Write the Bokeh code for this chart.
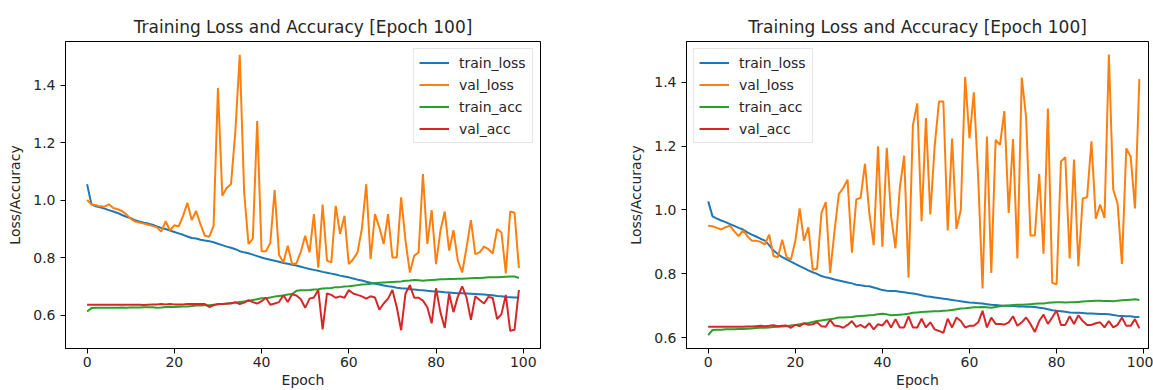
from bokeh.plotting import figure
from bokeh.models import Range1d, FixedTicker, PrintfTickFormatter
from bokeh.layouts import row
from bokeh.embed import file_html
from bokeh.resources import INLINE

TITLE = "Training Loss and Accuracy [Epoch 100]"
X_LABEL = "Epoch"
Y_LABEL = "Loss/Accuracy"
SERIES = ["train_loss", "val_loss", "train_acc", "val_acc"]
X_TICKS = [0, 20, 40, 60, 80, 100]
Y_TICKS = [0.6, 0.8, 1.0, 1.2, 1.4]
epochs = list(range(100))

# ---- left chart ----
train_loss_1 = [1.055, 0.985, 0.978, 0.975, 0.970, 0.965, 0.960, 0.955, 0.948, 0.942,
                0.937, 0.930, 0.925, 0.921, 0.918, 0.914, 0.908, 0.903, 0.899, 0.894,
                0.889, 0.884, 0.879, 0.873, 0.868, 0.866, 0.862, 0.859, 0.857, 0.853,
                0.848, 0.843, 0.838, 0.834, 0.829, 0.822, 0.818, 0.815, 0.810, 0.805,
                0.800, 0.796, 0.792, 0.789, 0.785, 0.781, 0.778, 0.775, 0.772, 0.768,
                0.764, 0.760, 0.757, 0.754, 0.750, 0.747, 0.744, 0.741, 0.737, 0.734,
                0.731, 0.727, 0.723, 0.720, 0.716, 0.712, 0.709, 0.706, 0.703, 0.700,
                0.698, 0.695, 0.693, 0.692, 0.690, 0.689, 0.687, 0.686, 0.684, 0.683,
                0.682, 0.681, 0.679, 0.678, 0.677, 0.676, 0.676, 0.675, 0.674, 0.673,
                0.672, 0.671, 0.670, 0.669, 0.666, 0.665, 0.663, 0.662, 0.661, 0.661]
val_loss_1 = [1.000, 0.985, 0.982, 0.978, 0.977, 0.985, 0.972, 0.968, 0.962, 0.950,
              0.935, 0.925, 0.922, 0.918, 0.914, 0.910, 0.905, 0.890, 0.926, 0.895,
              0.912, 0.908, 0.945, 0.990, 0.930, 0.962, 0.915, 0.876, 0.872, 0.910,
              1.390, 1.015, 1.042, 1.056, 1.240, 1.505, 1.030, 0.847, 0.866, 1.275,
              0.822, 0.822, 0.850, 1.035, 0.810, 0.783, 0.841, 0.777, 0.780, 0.820,
              0.876, 0.818, 0.951, 0.765, 0.984, 0.789, 0.783, 0.980, 0.882, 0.945,
              0.777, 0.794, 0.818, 0.900, 1.055, 0.794, 0.951, 0.905, 0.847, 0.951,
              0.800, 0.800, 1.009, 0.858, 0.748, 0.806, 0.818, 1.090, 0.847, 0.965,
              0.777, 0.893, 0.960, 0.824, 0.895, 0.789, 0.748, 0.835, 0.930, 0.812,
              0.818, 0.838, 0.829, 0.814, 0.899, 0.887, 0.745, 0.960, 0.956, 0.763]
train_acc_1 = [0.612, 0.624, 0.625, 0.625, 0.625, 0.625, 0.625, 0.625, 0.626, 0.625,
               0.626, 0.626, 0.626, 0.627, 0.627, 0.627, 0.625, 0.626, 0.628, 0.628,
               0.628, 0.629, 0.630, 0.630, 0.631, 0.633, 0.633, 0.634, 0.634, 0.636,
               0.637, 0.638, 0.639, 0.642, 0.643, 0.645, 0.647, 0.649, 0.652, 0.655,
               0.658, 0.658, 0.661, 0.664, 0.666, 0.668, 0.671, 0.673, 0.684, 0.686,
               0.686, 0.687, 0.689, 0.690, 0.692, 0.693, 0.694, 0.697, 0.697, 0.699,
               0.700, 0.702, 0.704, 0.706, 0.707, 0.709, 0.711, 0.712, 0.713, 0.714,
               0.715, 0.716, 0.717, 0.719, 0.720, 0.722, 0.721, 0.719, 0.721, 0.722,
               0.723, 0.724, 0.724, 0.725, 0.725, 0.726, 0.726, 0.727, 0.728, 0.729,
               0.729, 0.730, 0.731, 0.731, 0.731, 0.732, 0.733, 0.734, 0.734, 0.729]
val_acc_1 = [0.636, 0.636, 0.636, 0.636, 0.636, 0.636, 0.636, 0.636, 0.636, 0.636,
             0.636, 0.636, 0.636, 0.635, 0.636, 0.637, 0.637, 0.638, 0.637, 0.638,
             0.637, 0.637, 0.637, 0.638, 0.638, 0.638, 0.638, 0.638, 0.628, 0.634,
             0.638, 0.638, 0.640, 0.640, 0.645, 0.638, 0.643, 0.652, 0.645, 0.640,
             0.648, 0.660, 0.636, 0.640, 0.645, 0.669, 0.645, 0.672, 0.668, 0.655,
             0.625, 0.657, 0.661, 0.687, 0.550, 0.675, 0.670, 0.660, 0.665, 0.660,
             0.687, 0.675, 0.670, 0.665, 0.657, 0.665, 0.661, 0.619, 0.640, 0.657,
             0.687, 0.627, 0.547, 0.675, 0.704, 0.660, 0.660, 0.650, 0.627, 0.571,
             0.693, 0.610, 0.555, 0.675, 0.610, 0.664, 0.700, 0.660, 0.583, 0.665,
             0.652, 0.640, 0.663, 0.659, 0.586, 0.603, 0.670, 0.545, 0.549, 0.687]

# ---- right chart ----
train_loss_2 = [1.027, 0.980, 0.973, 0.967, 0.962, 0.956, 0.950, 0.944, 0.939, 0.930,
                0.923, 0.917, 0.910, 0.904, 0.890, 0.873, 0.862, 0.852, 0.845, 0.838,
                0.831, 0.824, 0.818, 0.811, 0.805, 0.800, 0.793, 0.789, 0.786, 0.782,
                0.779, 0.776, 0.773, 0.770, 0.766, 0.764, 0.762, 0.761, 0.757, 0.753,
                0.749, 0.747, 0.746, 0.746, 0.744, 0.742, 0.740, 0.738, 0.736, 0.733,
                0.730, 0.728, 0.726, 0.724, 0.722, 0.720, 0.718, 0.716, 0.714, 0.712,
                0.710, 0.709, 0.708, 0.707, 0.705, 0.703, 0.702, 0.701, 0.700, 0.700,
                0.699, 0.698, 0.698, 0.697, 0.697, 0.696, 0.694, 0.692, 0.689, 0.686,
                0.684, 0.683, 0.681, 0.679, 0.678, 0.678, 0.677, 0.676, 0.676, 0.675,
                0.674, 0.674, 0.673, 0.671, 0.669, 0.668, 0.667, 0.667, 0.665, 0.665]
val_loss_2 = [0.951, 0.949, 0.944, 0.939, 0.946, 0.951, 0.933, 0.918, 0.936, 0.918,
              0.904, 0.904, 0.900, 0.892, 0.923, 0.856, 0.852, 0.907, 0.852, 0.845,
              0.902, 1.005, 0.904, 0.946, 0.813, 0.816, 0.991, 1.025, 0.803, 0.933,
              1.050, 1.069, 1.095, 0.866, 1.033, 1.039, 1.145, 0.990, 0.890, 1.200,
              0.885, 1.195, 0.980, 0.880, 1.070, 1.170, 0.788, 1.265, 1.334, 0.965,
              1.288, 0.986, 1.200, 1.340, 1.340, 0.936, 1.224, 0.941, 1.000, 1.417,
              1.224, 1.369, 1.100, 0.754, 1.230, 0.803, 1.220, 1.204, 1.310, 0.991,
              1.222, 0.848, 1.415, 1.290, 0.920, 0.920, 1.113, 0.863, 1.318, 0.772,
              0.767, 1.152, 1.165, 0.848, 1.158, 0.824, 1.036, 1.040, 1.215, 0.973,
              1.017, 0.975, 1.487, 1.064, 1.020, 0.831, 1.193, 1.167, 1.005, 1.410]
train_acc_2 = [0.608, 0.624, 0.625, 0.625, 0.626, 0.626, 0.626, 0.627, 0.627, 0.628,
               0.629, 0.630, 0.631, 0.631, 0.632, 0.633, 0.634, 0.635, 0.636, 0.638,
               0.640, 0.642, 0.644, 0.646, 0.649, 0.652, 0.654, 0.656, 0.658, 0.660,
               0.663, 0.663, 0.664, 0.665, 0.667, 0.668, 0.669, 0.670, 0.671, 0.673,
               0.675, 0.673, 0.670, 0.671, 0.672, 0.673, 0.675, 0.678, 0.679, 0.680,
               0.681, 0.682, 0.683, 0.683, 0.684, 0.685, 0.687, 0.689, 0.691, 0.692,
               0.694, 0.695, 0.695, 0.696, 0.695, 0.694, 0.696, 0.698, 0.700, 0.701,
               0.702, 0.703, 0.703, 0.704, 0.705, 0.706, 0.707, 0.707, 0.709, 0.710,
               0.711, 0.711, 0.710, 0.711, 0.711, 0.712, 0.713, 0.714, 0.715, 0.716,
               0.716, 0.715, 0.715, 0.714, 0.716, 0.717, 0.718, 0.719, 0.720, 0.718]
val_acc_2 = [0.634, 0.634, 0.634, 0.634, 0.634, 0.634, 0.634, 0.634, 0.634, 0.635,
             0.635, 0.636, 0.637, 0.636, 0.637, 0.639, 0.636, 0.637, 0.638, 0.631,
             0.640, 0.636, 0.645, 0.640, 0.642, 0.648, 0.636, 0.634, 0.656, 0.638,
             0.636, 0.631, 0.640, 0.652, 0.634, 0.640, 0.631, 0.645, 0.626, 0.642,
             0.638, 0.655, 0.632, 0.658, 0.632, 0.632, 0.667, 0.632, 0.632, 0.659,
             0.632, 0.648, 0.626, 0.621, 0.615, 0.659, 0.632, 0.663, 0.652, 0.632,
             0.637, 0.637, 0.648, 0.684, 0.632, 0.663, 0.643, 0.643, 0.641, 0.648,
             0.667, 0.637, 0.648, 0.663, 0.643, 0.618, 0.652, 0.672, 0.643, 0.663,
             0.685, 0.640, 0.640, 0.667, 0.643, 0.670, 0.652, 0.640, 0.640, 0.645,
             0.648, 0.632, 0.652, 0.632, 0.640, 0.663, 0.637, 0.637, 0.658, 0.629]

COLORS = ["#1f77b4", "#ff7f0e", "#2ca02c", "#d62728"]
FONT = "DejaVu Sans"
TEXT = "#262626"
SMALL = "14px"


def make_fig(width, b_left, b_right, xr, yr, data, loc):
    p = figure(width=width, height=390, x_range=Range1d(*xr), y_range=Range1d(*yr),
               output_backend="svg", toolbar_location=None,
               min_border_left=b_left, min_border_right=b_right,
               min_border_top=41, min_border_bottom=42)
    p.title.text = TITLE
    p.title.align = "center"
    p.title.text_font = FONT
    p.title.text_font_size = "17px"
    p.title.text_font_style = "normal"
    p.title.text_color = TEXT
    p.title.standoff = 9
    p.xgrid.grid_line_color = None
    p.ygrid.grid_line_color = None
    p.outline_line_color = "black"
    p.outline_line_alpha = 1.0
    p.outline_line_width = 1
    p.background_fill_color = "white"
    p.border_fill_color = "white"
    for ax in (p.xaxis[0], p.yaxis[0]):
        ax.axis_line_color = "black"
        ax.major_tick_line_color = "black"
        ax.major_tick_out = 5
        ax.major_tick_in = 0
        ax.minor_tick_line_color = None
        ax.major_label_text_font = FONT
        ax.major_label_text_font_size = SMALL
        ax.major_label_text_color = TEXT
        ax.axis_label_text_font = FONT
        ax.axis_label_text_font_size = SMALL
        ax.axis_label_text_font_style = "normal"
        ax.axis_label_text_color = TEXT
    p.xaxis[0].major_label_standoff = 3
    p.xaxis[0].axis_label_standoff = 2
    p.yaxis[0].major_label_standoff = 5
    p.yaxis[0].axis_label_standoff = 7
    p.xaxis[0].ticker = FixedTicker(ticks=X_TICKS)
    p.yaxis[0].ticker = FixedTicker(ticks=Y_TICKS)
    p.xaxis[0].formatter = PrintfTickFormatter(format="%d")
    p.yaxis[0].formatter = PrintfTickFormatter(format="%.1f")
    p.xaxis[0].axis_label = X_LABEL
    p.yaxis[0].axis_label = Y_LABEL
    for name, ys, c in zip(SERIES, data, COLORS):
        p.line(epochs, ys, line_color=c, line_width=2, legend_label=name)
    lg = p.legend[0]
    lg.location = loc
    lg.margin = 7
    lg.padding = 5
    lg.spacing = 5
    lg.glyph_width = 30
    lg.glyph_height = 17
    lg.label_height = 17
    lg.label_width = 68
    lg.label_standoff = 10
    lg.label_text_font = FONT
    lg.label_text_font_size = SMALL
    lg.label_text_color = TEXT
    lg.border_line_color = "#cccccc"
    lg.border_line_width = 1
    lg.background_fill_alpha = 0.8
    return p


p1 = make_fig(600, 65, 60, (-4.95, 103.95), (0.4835, 1.5515),
              [train_loss_1, val_loss_1, train_acc_1, val_acc_1], "top_right")
p2 = make_fig(553, 86, 5, (-4.98, 101.1), (0.566, 1.528),
              [train_loss_2, val_loss_2, train_acc_2, val_acc_2], "top_left")

layout = row(p1, p2)
open("out.html", "w").write(file_html(layout, INLINE))
